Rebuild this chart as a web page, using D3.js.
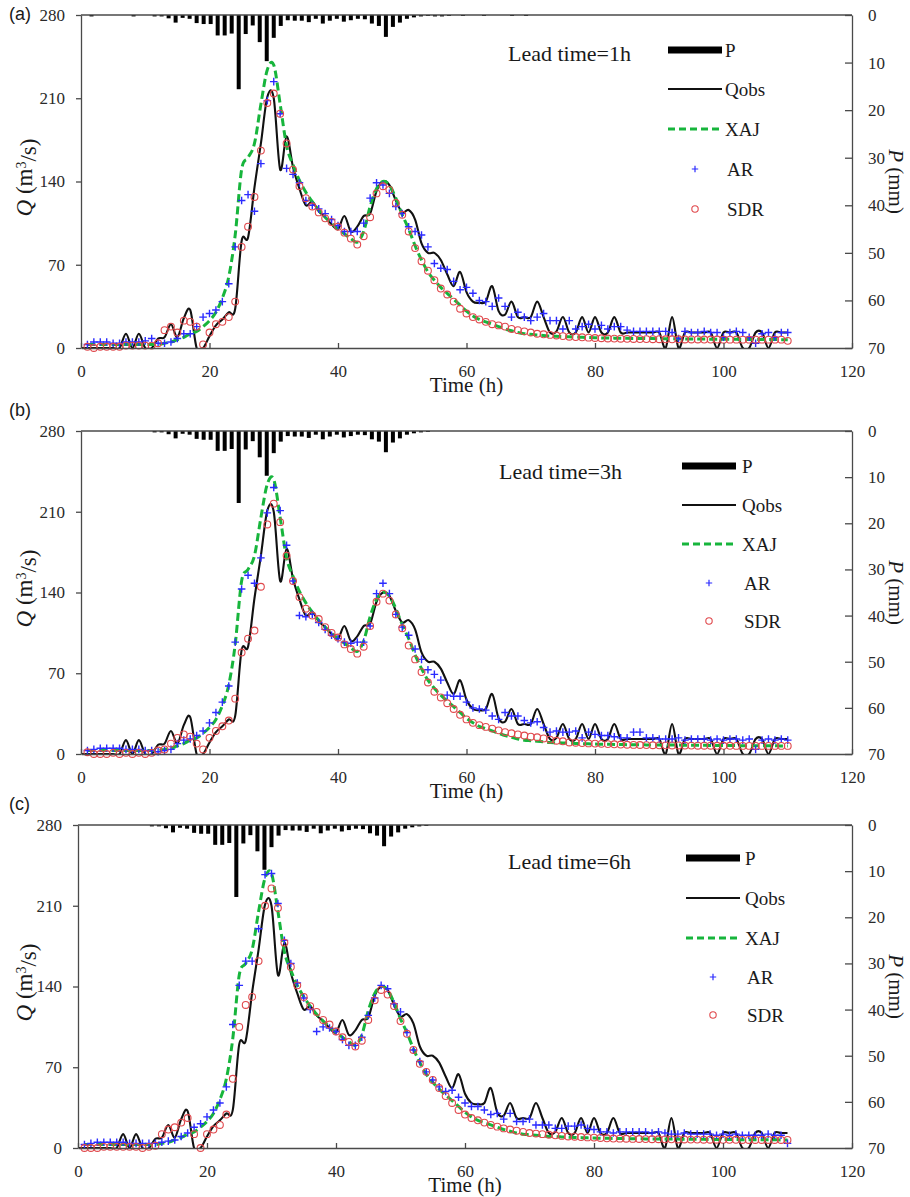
<!DOCTYPE html>
<html>
<head>
<meta charset="utf-8">
<script src="https://cdn.jsdelivr.net/npm/d3@7"></script>
<style>
  body { margin: 0; background: #fff; }
  svg text { font-family: "Liberation Serif", "Times New Roman", serif; }
</style>
</head>
<body>
<svg id="chart" width="910" height="1197"></svg>
<script>
"use strict";
// hourly time steps (h)
var hours = d3.range(0, 111);
var xTicks = [0, 20, 40, 60, 80, 100, 120];
var qTicks = [0, 70, 140, 210, 280];
var pTicks = [0, 10, 20, 30, 40, 50, 60, 70];
var leadTimes = ["Lead time=1h", "Lead time=3h", "Lead time=6h"];
var seriesNames = ["P", "Qobs", "XAJ", "AR", "SDR"];

// observed discharge, t = 0..110
var qObs = [0, 0, 0, 0, 0, 0, 0, 12, 0, 12,
  0, 0, 8, 9, 20, 9, 25, 32, 0, 0,
  10, 19, 24, 30, 33, 90, 93, 135, 172, 211,
  210, 150, 178, 152, 134, 120, 123, 115, 110, 104,
  100, 111, 98, 102, 111, 113, 132, 140, 137, 124,
  114, 116, 108, 88, 80, 80, 74, 62, 52, 64,
  47, 39, 38, 39, 52, 31, 28, 39, 26, 26,
  26, 39, 26, 13, 14, 26, 13, 13, 26, 13,
  26, 13, 13, 26, 13, 13, 13, 13, 13, 13,
  13, 0, 26, 0, 13, 13, 13, 13, 13, 0,
  13, 13, 13, 0, 0, 13, 13, 0, 13, 13,
  13];

// XAJ simulation, t = 1..110
var qXaj = [3, 3, 3, 3, 3, 3, 3, 3, 3, 3,
  3, 3, 4, 5, 7, 9, 12, 14, 18, 23,
  30, 42, 60, 95, 150, 160, 172, 205, 234, 238,
  205, 170, 154, 141, 131, 123, 116, 110, 105, 100,
  96, 92, 89, 98, 119, 134, 140, 137, 126, 112,
  100, 86, 74, 64, 57, 51, 46, 41, 36, 31,
  27, 24, 22, 20, 18, 16, 14.5, 13, 12, 11.5,
  11, 10.5, 10, 9.8, 9.6, 9.4, 9.2, 9, 8.8, 8.6,
  8.5, 8.4, 8.3, 8.2, 8.1, 8, 8, 7.9, 7.9, 7.8,
  7.8, 7.7, 7.7, 7.6, 7.6, 7.5, 7.5, 7.4, 7.4, 7.3,
  7.3, 7.3, 7.2, 7.2, 7.2, 7.1, 7.1, 7.1, 7, 7];

// AR forecasts, t = 1..110
var arLead1 = [3, 5, 5, 5, 4, 4, 5, 5, 5, 6,
  8, 4, 4, 5, 8, 12, 12, 18, 26, 29,
  32, 39, 54, 85, 124, 129, 115, 155, 208, 224,
  197, 151, 146, 139, 124, 120, 117, 113, 108, 103,
  98, 98, 98, 105, 126, 139, 137, 130, 119, 113,
  102, 98, 95, 85, 71, 67, 66, 56, 49, 51,
  46, 40, 39, 35, 42, 35, 26, 30, 26, 23,
  26, 29, 23, 23, 16, 23, 16, 18, 20, 16,
  19, 16, 18, 18, 15, 14, 14, 14, 14, 14,
  14, 13, 8, 14, 13, 13, 14, 13, 13, 9,
  13, 14, 13, 9, 4, 12, 13, 9, 13, 13];
var arLead3 = [3, 4, 5, 5, 5, 5, 4, 4, 4, 3,
  3, 2, 3, 4, 9, 12, 13, 16, 20, 27,
  36, 45, 59, 97, 143, 155, 148, 170, 209, 231,
  211, 181, 150, 120, 119, 121, 114, 108, 103, 100,
  97, 96, 97, 97, 111, 139, 148, 139, 121, 110,
  103, 91, 82, 73, 69, 64, 51, 50, 50, 45,
  40, 39, 38, 33, 30, 36, 33, 33, 29, 27,
  28, 23, 19, 20, 19, 19, 20, 14, 19, 17,
  16, 16, 15, 14, 14, 19, 19, 14, 14, 13,
  13, 13, 14, 12, 13, 13, 13, 12, 13, 12,
  13, 13, 12, 13, 4, 12, 13, 12, 13, 12];
var arLead6 = [3, 4, 5, 5, 5, 5, 5, 4, 4, 4,
  4, 4, 5, 6, 7, 10, 13, 18, 21, 27,
  33, 39, 53, 107, 141, 162, 162, 190, 237, 238,
  212, 180, 160, 143, 130, 120, 101, 105, 104, 101,
  94, 89, 89, 96, 115, 130, 141, 138, 125, 118,
  100, 85, 75, 66, 59, 53, 49, 50, 44, 39,
  36, 36, 33, 29, 30, 25, 30, 23, 23, 25,
  20, 20, 20, 17, 17, 19, 19, 20, 17, 16,
  14, 14, 13, 14, 14, 14, 14, 14, 13, 14,
  13, 12, 12, 13, 12, 12, 12, 12, 11, 12,
  11, 12, 11, 11, 11, 11, 12, 11, 11, 4];

// SDR forecasts, t = 1..110
var sdrLead1 = [1, 0, 1, 1, 1, 1, 2, 2, 2, 2,
  2, 4, 15, 18, 13, 23, 22, 18, 3, 13,
  20, 22, 26, 39, 85, 102, 127, 166, 206, 214,
  197, 172, 150, 136, 126, 119, 114, 109, 106, 102,
  97, 92, 87, 94, 110, 130, 136, 133, 122, 112,
  98, 84, 73, 65, 57, 50, 45, 39, 33, 29,
  26, 24, 22, 20, 19, 18, 16, 15, 14, 13,
  12, 11.5, 11, 10.5, 10, 9.5, 9.2, 9, 8.7, 8.4,
  8.2, 8, 7.9, 7.8, 7.7, 7.6, 7.5, 7.5, 7.4, 7.4,
  7.3, 7.3, 7.3, 7.2, 7.2, 7.2, 7.1, 7.1, 7.1, 7,
  7, 7, 7, 7, 7, 7, 7, 7, 7, 6];
var sdrLead3 = [1.5, 0, 0, 0, 1, 0, 1, 0, 1, 0,
  1, 3, 4, 9, 14, 17, 15, 9, 4, 14,
  20, 24, 29, 48, 88, 100, 107, 145, 199, 217,
  201, 172, 150, 136, 126, 120, 117, 110, 105, 101,
  95, 91, 87, 93, 111, 132, 139, 133, 121, 109,
  94, 82, 71, 62, 54, 49, 44, 39, 34, 30,
  27, 25, 23.5, 22, 20.5, 19, 18, 17, 16, 15,
  14.5, 13.5, 12.5, 11.5, 11, 10, 9.8, 9.5, 9.2, 9,
  8.8, 8.6, 8.4, 8.2, 8, 7.9, 7.8, 7.7, 7.6, 7.5,
  7.5, 7.4, 7.4, 7.3, 7.3, 7.2, 7.2, 7.2, 7.1, 7.1,
  7.1, 7, 7, 7, 7, 7, 7, 7, 7, 7];
var sdrLead6 = [0, 0, 0, 1, 1, 1, 1, 1, 1, 0,
  1, 2, 12, 16, 18, 22, 26, 12, 0, 12,
  16, 20, 29, 60, 105, 124, 131, 162, 210, 225,
  208, 178, 157, 141, 131, 123, 118, 111, 107, 101,
  96, 92, 88, 93, 111, 128, 137, 133, 123, 110,
  99, 85, 73, 66, 59, 52, 45, 39, 33, 29,
  26, 24, 22, 20, 18.5, 17, 16, 15, 14, 13,
  12.5, 12, 11.5, 11, 10.5, 10, 9.8, 9.5, 9.2, 9,
  8.7, 8.4, 8.2, 8.1, 8, 7.9, 7.8, 7.7, 7.6, 7.6,
  7.5, 7.5, 7.4, 7.4, 7.3, 7.3, 7.2, 7.2, 7.2, 7.1,
  7.1, 7.1, 7, 7, 7, 7, 7, 7, 7, 7];

// hourly precipitation (mm), bars 1..110
var precipA = [0, 0.3, 0, 0, 0, 0, 0, 0.3, 0, 0,
  0.3, 0.3, 0.7, 1.6, 0.6, 0.8, 1.7, 1.9, 1.9, 4.3,
  4.3, 3.9, 15.6, 4.0, 2.2, 5.7, 9.7, 4.8, 2.3, 1.1,
  1.2, 1.2, 1.5, 0.8, 1.8, 1.2, 0.8, 1.4, 1.1, 0.8,
  0.9, 1.8, 2.3, 4.6, 2.5, 1.6, 0.8, 0.5, 0.3, 0.2,
  0.3, 0.3, 0.2, 0, 0.2, 0, 0, 0.2, 0, 0,
  0, 0.2, 0, 0.2, 0, 0, 0, 0, 0, 0,
  0, 0, 0, 0, 0, 0, 0, 0, 0, 0,
  0, 0, 0, 0, 0, 0, 0, 0, 0, 0,
  0, 0, 0, 0, 0, 0, 0, 0, 0, 0,
  0, 0, 0, 0, 0, 0, 0, 0, 0, 0];
var precipBC = [0, 0, 0, 0, 0, 0, 0, 0, 0, 0,
  0.3, 0.3, 0.7, 1.6, 0.6, 0.8, 1.7, 1.9, 1.9, 4.3,
  4.3, 3.9, 15.6, 4.0, 2.2, 5.7, 9.7, 4.8, 2.3, 1.1,
  1.2, 1.2, 1.5, 0.8, 1.8, 1.2, 0.8, 1.4, 1.1, 0.8,
  0.9, 1.8, 2.3, 4.6, 2.5, 1.6, 0.8, 0.5, 0.3, 0.2,
  0, 0, 0, 0, 0, 0, 0, 0, 0, 0,
  0, 0, 0, 0, 0, 0, 0, 0, 0, 0,
  0, 0, 0, 0, 0, 0, 0, 0, 0, 0,
  0, 0, 0, 0, 0, 0, 0, 0, 0, 0,
  0, 0, 0, 0, 0, 0, 0, 0, 0, 0,
  0, 0, 0, 0, 0, 0, 0, 0, 0, 0];

var GREEN = "#17b53c", BLUE = "#2b2bff", RED = "#e0484c", AXIS = "#4a4a4a";
var SERIF = "Liberation Serif";

// panel layout
var panels = [
  { tag: "(a)", lead: leadTimes[0], precip: precipA, ar: arLead1, sdr: sdrLead1,
    x0: 81, x1: 852, y0: 15, y1: 348, tagY: 20, legX: 668, legText: 725, leadX: 508,
    legY: [50, 89, 129, 169, 209], leadY: 53 },
  { tag: "(b)", lead: leadTimes[1], precip: precipBC, ar: arLead3, sdr: sdrLead3,
    x0: 81, x1: 852, y0: 431, y1: 754, tagY: 416, legX: 682, legText: 742, leadX: 499,
    legY: [466, 505, 544, 583, 621], leadY: 471 },
  { tag: "(c)", lead: leadTimes[2], precip: precipBC, ar: arLead6, sdr: sdrLead6,
    x0: 78, x1: 852, y0: 825, y1: 1148, tagY: 810, legX: 686, legText: 745, leadX: 508,
    legY: [858, 898, 938, 977, 1015], leadY: 861 }
];

var svg = d3.select("#chart");
var defs = svg.append("defs");

panels.forEach(function (p, pi) { drawPanel(p, pi); });

function styleAxis(sel) {
  sel.attr("font-family", SERIF).attr("font-size", 17);
  sel.selectAll(".domain").attr("stroke", AXIS).attr("stroke-width", 1.3);
  sel.selectAll(".tick line").attr("stroke", AXIS).attr("stroke-width", 1.3);
  sel.selectAll(".tick text").attr("fill", "#2a2a2a");
}

function plusPath(s) {
  return "M" + (-s) + ",0H" + s + "M0," + (-s) + "V" + s;
}

function drawPanel(p, pi) {
  var x = d3.scaleLinear().domain([0, 120]).range([p.x0, p.x1]);
  var y = d3.scaleLinear().domain([0, 280]).range([p.y1, p.y0]);
  var yP = d3.scaleLinear().domain([0, 70]).range([p.y0, p.y1]);
  var band = d3.scaleBand().domain(d3.range(1, 111))
    .range([p.x0, p.x1]).paddingInner(0.43).paddingOuter(0.215);

  var clipId = "plot-clip-" + pi;
  defs.append("clipPath").attr("id", clipId).append("rect")
    .attr("x", p.x0).attr("y", p.y0)
    .attr("width", p.x1 - p.x0).attr("height", p.y1 - p.y0);

  var g = svg.append("g").attr("font-family", SERIF);

  // Rain bars hang from the top
  var bars = p.precip.map(function (v, i) { return { k: i + 1, v: v }; })
    .filter(function (d) { return d.v > 0; });
  g.selectAll("rect.rain")
    .data(bars)
    .enter()
    .append("rect")
    .attr("class", "rain")
    .attr("x", function (d) { return band(d.k); })
    .attr("width", band.bandwidth())
    .attr("y", yP(0))
    .attr("height", function (d) { return yP(d.v) - yP(0); })
    .attr("fill", "#000");

  var plot = g.append("g").attr("clip-path", "url(#" + clipId + ")");
  var smooth = d3.curveCardinal.tension(0);

  // Observed discharge
  plot.append("path")
    .datum(qObs)
    .attr("fill", "none")
    .attr("stroke", "#111")
    .attr("stroke-width", 2.1)
    .attr("d", d3.line()
      .x(function (d, i) { return x(hours[i]); })
      .y(function (d) { return y(d); })
      .curve(smooth));

  // XAJ simulation
  plot.append("path")
    .datum(qXaj)
    .attr("fill", "none")
    .attr("stroke", GREEN)
    .attr("stroke-width", 3)
    .attr("stroke-dasharray", "8,4")
    .attr("d", d3.line()
      .x(function (d, i) { return x(hours[i + 1]); })
      .y(function (d) { return y(d); })
      .curve(smooth));

  // AR points
  g.selectAll("path.ar")
    .data(p.ar)
    .enter()
    .append("path")
    .attr("class", "ar")
    .attr("d", plusPath(3.8))
    .attr("transform", function (d, i) { return "translate(" + x(hours[i + 1]) + "," + y(d) + ")"; })
    .attr("stroke", BLUE)
    .attr("stroke-width", 1.4)
    .attr("fill", "none");

  // SDR points
  g.selectAll("circle.sdr")
    .data(p.sdr)
    .enter()
    .append("circle")
    .attr("class", "sdr")
    .attr("cx", function (d, i) { return x(hours[i + 1]); })
    .attr("cy", function (d) { return y(d); })
    .attr("r", 3.4)
    .attr("fill", "none")
    .attr("stroke", RED)
    .attr("stroke-width", 1.1);

  // Axes
  g.append("g")
    .attr("transform", "translate(" + p.x0 + ",0)")
    .call(d3.axisLeft(y).tickValues(qTicks).tickSize(5).tickSizeOuter(0).tickPadding(11))
    .call(styleAxis);
  g.append("g")
    .attr("transform", "translate(0," + p.y1 + ")")
    .call(d3.axisBottom(x).tickValues(xTicks).tickSize(-5).tickSizeOuter(0).tickPadding(17))
    .call(styleAxis);
  g.append("g")
    .attr("transform", "translate(" + p.x1 + ",0)")
    .call(d3.axisRight(yP).tickValues(pTicks).tickSize(-7).tickSizeOuter(0).tickPadding(16))
    .call(styleAxis);
  g.append("line")
    .attr("x1", p.x0).attr("x2", p.x1)
    .attr("y1", p.y0).attr("y2", p.y0)
    .attr("stroke", AXIS).attr("stroke-width", 1.3);

  // Axis titles
  var midY = (p.y0 + p.y1) / 2;
  g.append("text")
    .attr("x", (p.x0 + p.x1) / 2)
    .attr("y", p.y1 + 44)
    .attr("text-anchor", "middle")
    .attr("font-size", 21)
    .attr("fill", "#1a1a1a")
    .text("Time (h)");

  var qLabel = g.append("text")
    .attr("transform", "translate(32," + (midY - 4) + ") rotate(-90)")
    .attr("text-anchor", "middle")
    .attr("font-size", 23)
    .attr("fill", "#1a1a1a");
  qLabel.append("tspan").style("font-style", "italic").text("Q");
  qLabel.append("tspan").text(" (m");
  qLabel.append("tspan").attr("dy", "-0.45em").attr("font-size", 14).text("3");
  qLabel.append("tspan").attr("dy", "0.45em").text("/s)");

  var pLabel = g.append("text")
    .attr("transform", "translate(889," + midY + ") rotate(90)")
    .attr("text-anchor", "middle")
    .attr("font-size", 21)
    .attr("fill", "#1a1a1a");
  pLabel.append("tspan").style("font-style", "italic").text("P");
  pLabel.append("tspan").text(" (mm)");

  // Panel tag
  g.append("text")
    .attr("x", 9)
    .attr("y", p.tagY)
    .style("font-family", "Liberation Sans")
    .attr("font-size", 18)
    .attr("fill", "#1a1a1a")
    .text(p.tag);

  // Legend
  var legW = 54;
  g.append("text")
    .attr("x", p.leadX)
    .attr("y", p.leadY)
    .attr("dy", "0.35em")
    .attr("font-size", 22)
    .attr("fill", "#1a1a1a")
    .text(p.lead);

  g.append("rect")
    .attr("x", p.legX).attr("y", p.legY[0] - 3.5)
    .attr("width", legW).attr("height", 7)
    .attr("fill", "#000");
  g.append("line")
    .attr("x1", p.legX).attr("x2", p.legX + legW)
    .attr("y1", p.legY[1]).attr("y2", p.legY[1])
    .attr("stroke", "#111").attr("stroke-width", 2);
  g.append("line")
    .attr("x1", p.legX).attr("x2", p.legX + legW)
    .attr("y1", p.legY[2]).attr("y2", p.legY[2])
    .attr("stroke", GREEN).attr("stroke-width", 3)
    .attr("stroke-dasharray", "7,4");
  g.append("path")
    .attr("d", plusPath(3.2))
    .attr("transform", "translate(" + (p.legX + legW / 2) + "," + p.legY[3] + ")")
    .attr("stroke", BLUE).attr("stroke-width", 1.2).attr("fill", "none");
  g.append("circle")
    .attr("cx", p.legX + legW / 2).attr("cy", p.legY[4]).attr("r", 3.2)
    .attr("fill", "none").attr("stroke", RED).attr("stroke-width", 1.1);

  g.selectAll("text.leg")
    .data(seriesNames)
    .enter()
    .append("text")
    .attr("class", "leg")
    .attr("x", function (d, i) { return i < 3 ? p.legText : p.legText + 2; })
    .attr("y", function (d, i) { return p.legY[i]; })
    .attr("dy", "0.35em")
    .attr("font-size", 19)
    .attr("fill", "#1a1a1a")
    .text(function (d) { return d; });
}
</script>
</body>
</html>
